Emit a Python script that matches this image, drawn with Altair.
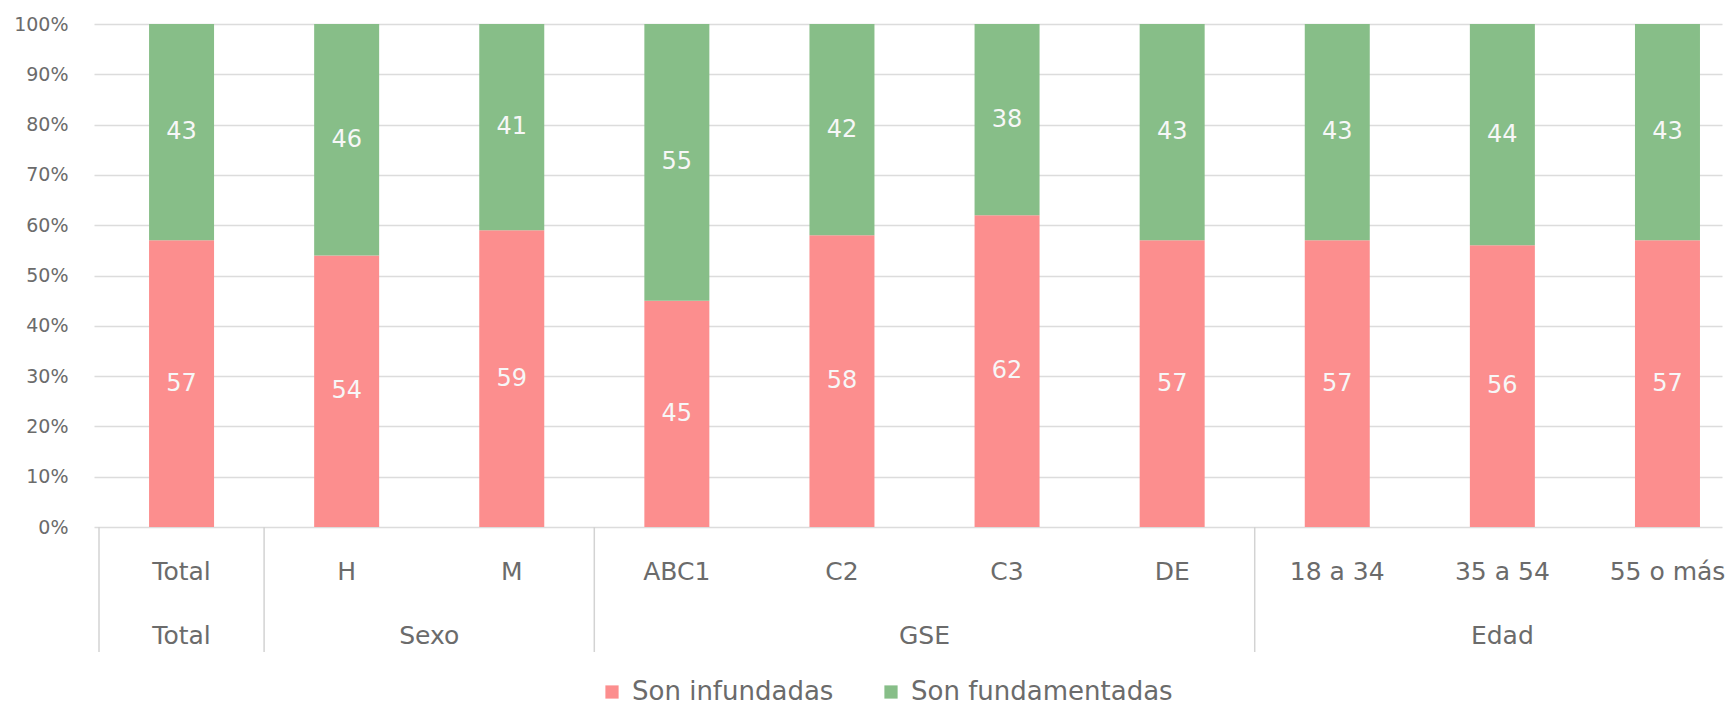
import altair as alt
import pandas as pd

categories = ["Total", "H", "M", "ABC1", "C2", "C3", "DE", "18 a 34", "35 a 54", "55 o más"]
groups = ["Total", "Sexo", "Sexo", "GSE", "GSE", "GSE", "GSE", "Edad", "Edad", "Edad"]
infundadas = [57, 54, 59, 45, 58, 62, 57, 57, 56, 57]
fundamentadas = [43, 46, 41, 55, 42, 38, 43, 43, 44, 43]
series_names = ["Son infundadas", "Son fundamentadas"]
colors = ["#FC8E8E", "#87BE88"]
y_ticks = list(range(0, 101, 10))

rows = []
for i, (c, g) in enumerate(zip(categories, groups)):
    rows.append(dict(idx=i, category=c, group=g, serie=series_names[0], orden=0, value=infundadas[i]))
    rows.append(dict(idx=i, category=c, group=g, serie=series_names[1], orden=1, value=fundamentadas[i]))
df = pd.DataFrame(rows)
cat_df = pd.DataFrame({"idx": list(range(len(categories))), "category": categories, "group": groups})

FONT = "DejaVu Sans"
TXT = "#6b6b6b"
W, H = 1628, 503
x_scale = alt.Scale(domain=[-0.5, 9.30], nice=False, zero=False)

base = alt.Chart(df).transform_stack(
    stack="value", groupby=["idx"], as_=["y0", "y1"], sort=[alt.SortField("orden")]
)

bars = base.mark_bar(size=65).encode(
    x=alt.X("idx:Q", scale=x_scale, axis=None),
    y=alt.Y(
        "y0:Q",
        scale=alt.Scale(domain=[0, 100], nice=False),
        axis=alt.Axis(
            title=None, values=y_ticks, labelExpr="datum.value + '%'",
            grid=True, domain=False, ticks=False, labelPadding=26,
            labelFont=FONT, labelFontSize=19, labelColor=TXT,
        ),
    ),
    y2="y1:Q",
    color=alt.Color(
        "serie:N",
        scale=alt.Scale(domain=series_names, range=colors),
        legend=alt.Legend(
            title=None, orient="none", legendX=505, legendY=655, direction="horizontal",
            symbolType="square", symbolSize=175, symbolStrokeWidth=0,
            labelFont=FONT, labelFontSize=26, labelColor=TXT, labelLimit=500,
            columnPadding=44, labelOffset=7, padding=0,
        ),
    ),
)

labels = base.transform_calculate(mid="(datum.y0 + datum.y1) / 2").mark_text(
    font=FONT, fontSize=24, color="#f7f7f7", baseline="middle"
).encode(
    x=alt.X("idx:Q", scale=x_scale),
    y=alt.Y("mid:Q", title=None),
    text="value:Q",
)

cat_text = alt.Chart(cat_df).mark_text(
    font=FONT, fontSize=25, color=TXT, baseline="middle"
).encode(
    x=alt.X("idx:Q", scale=x_scale),
    y=alt.value(548),
    text="category:N",
)

group_text = alt.Chart(cat_df).transform_aggregate(
    center="mean(idx)", groupby=["group"]
).mark_text(font=FONT, fontSize=25, color=TXT, baseline="middle").encode(
    x=alt.X("center:Q", scale=x_scale),
    y=alt.value(612),
    text="group:N",
)

seps = alt.Chart(cat_df).transform_aggregate(
    first="min(idx)", groupby=["group"]
).transform_calculate(edge="datum.first - 0.5").mark_rule(
    color="#d3d3d3", strokeWidth=1.5
).encode(
    x=alt.X("edge:Q", scale=x_scale),
    y=alt.value(503),
    y2=alt.value(628),
)

chart = alt.layer(bars, labels, seps, cat_text, group_text).properties(
    width=W, height=H,
    padding={"top": 7, "left": 5, "right": 0, "bottom": 0},
).configure_view(stroke=None).configure_axis(
    gridColor="#dcdcdc", gridWidth=1.5
)

chart.save("out.html", embed_options={"renderer": "svg", "actions": False})
